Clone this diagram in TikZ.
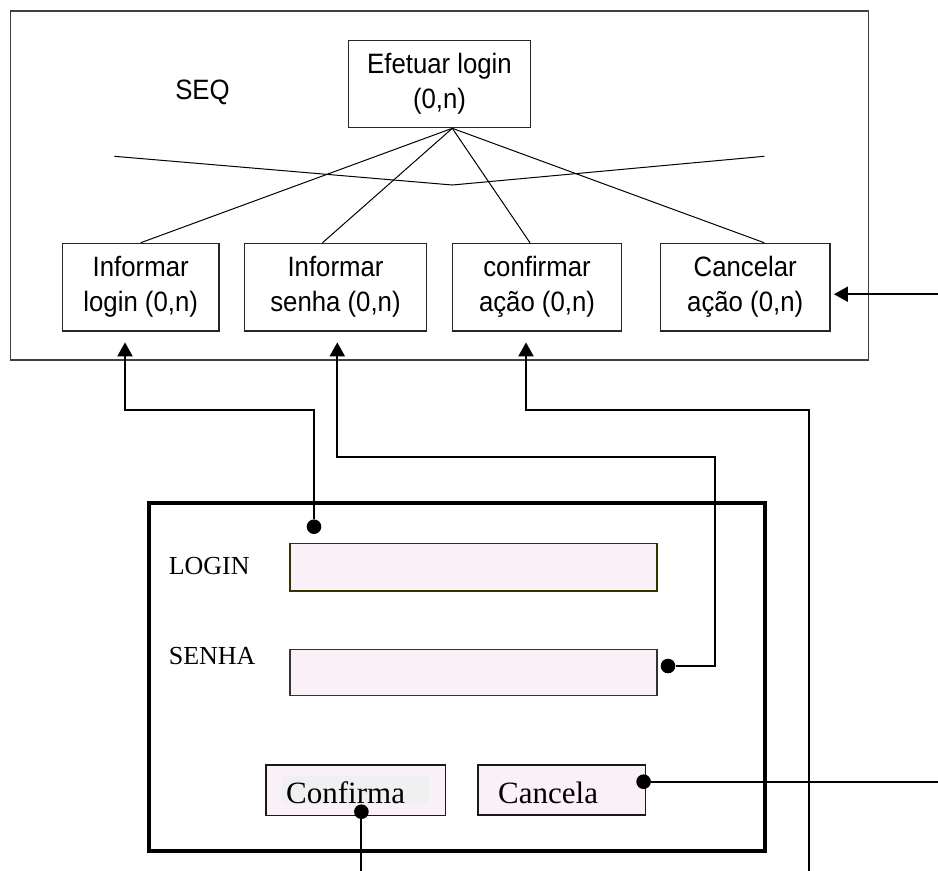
\documentclass[tikz,border=0pt]{standalone}
\usepackage{fontspec}
\setmainfont{Liberation Serif}
\newfontfamily\arialf[FakeStretch=0.92]{Liberation Sans}
\usetikzlibrary{arrows.meta,calc}
\definecolor{pinkfill}{RGB}{250,240,247}
\definecolor{olivedark}{RGB}{51,51,0}
\definecolor{framegray}{RGB}{64,64,64}
\definecolor{txtbg}{RGB}{240,240,240}
\begin{document}
\begin{tikzpicture}[x=1pt,y=-1pt,
  task/.style={draw=black!85, line width=1.2pt, inner sep=0pt, align=center,
    font=\arialf\fontsize{28}{35}\selectfont},
  hair/.style={line width=1pt},
  conn/.style={line width=2pt},
  arr/.style={conn, -{Triangle[length=14pt,width=15pt]}},
  dot/.style={circle, fill=black, inner sep=0pt, minimum size=14.6pt},
  field/.style={fill=pinkfill, line width=1.5pt, inner sep=0pt},
  btn/.style={draw=black!90, fill=pinkfill, line width=1.5pt, inner sep=0pt},
  lbl/.style={font=\fontsize{26}{30}\selectfont, inner sep=0pt, anchor=base west},
  btxt/.style={font=\fontsize{31}{36}\selectfont, inner sep=0pt, anchor=base west}
]
\useasboundingbox (0,0) rectangle (938,871);

% upper task tree
\node[draw=framegray, line width=1.2pt, minimum width=857.8pt, minimum height=349pt, inner sep=0pt] (seqframe) at (439.4,185.5) {};
\node[font=\arialf\fontsize{28}{35}\selectfont, inner sep=0pt] (seq) at (202.5,92) {SEQ};
\node[task, minimum width=182.4pt, minimum height=87pt] (efet) at (439.5,84.2) {Efetuar login\\(0,n)};
\node[task, minimum width=156.7pt, minimum height=87.7pt] (i1) at (140.7,287.2) {Informar\\login (0,n)};
\node[task, minimum width=182.4pt, minimum height=87.7pt] (i2) at (335.5,287.2) {Informar\\senha (0,n)};
\node[task, minimum width=169.4pt, minimum height=87.7pt] (i3) at (537,287.2) {confirmar\\ação (0,n)};
\node[task, minimum width=169.7pt, minimum height=87.7pt] (i4) at (745.2,287.2) {Cancelar\\ação (0,n)};

\coordinate (apex) at ($(efet.south)+(12.8,0)$);
\draw[hair] (apex) -- (i1.north);
\draw[hair] (apex) -- ($(i2.north)+(-13,0)$);
\draw[hair] (apex) -- ($(i3.north)+(-7,0)$);
\draw[hair] (apex) -- ($(i4.north)+(19.1,0)$);
\draw[hair] (114.3,156.3) -- (452.3,185) -- (764.3,156.3);

% login window
\node[draw, line width=4pt, minimum width=616.5pt, minimum height=347.4pt, inner sep=0pt] (win) at (456.75,677) {};
\node[lbl] (llogin) at (168.6,574) {LOGIN};
\node[lbl] (lsenha) at (168.6,664) {SENHA};
\node[field, draw=olivedark, minimum width=366.8pt, minimum height=47.7pt] (flogin) at (473.4,567.2) {};
\node[field, draw=black!80, minimum width=366.8pt, minimum height=46.4pt] (fsenha) at (473.4,672.5) {};
\node[btn, minimum width=179.4pt, minimum height=50.5pt] (bconf) at (355.7,790.2) {};
\node[fill=txtbg, minimum width=146.7pt, minimum height=28.3pt, inner sep=0pt] (confbg) at (355.65,789.85) {};
\node[btxt] (tconf) at (286,803.3) {Confirma};
\node[btn, minimum width=167.2pt, minimum height=50pt] (bcanc) at (561.8,790) {};
\node[btxt] (tcanc) at (498,803.3) {Cancela};

% connection points
\node[dot] (dlogin) at (314,526.7) {};
\node[dot] (dsenha) at (668,666) {};
\node[dot] (dcanc) at (643.6,781.7) {};
\node[dot] (dconf) at (361.4,811.7) {};

\coordinate (t1) at ($(i1.south)+(-15.7,10.7)$);
\coordinate (t2) at ($(i2.south)+(1.8,10.7)$);
\coordinate (t3) at ($(i3.south)+(-11,10.7)$);
\coordinate (t4) at ($(i4.east)+(3.3,7)$);
\coordinate (e4) at (938,294.2);
\coordinate (e3) at (809,871);
\coordinate (e1) at (361.4,871);
\coordinate (ecanc) at (938,781.7);
\coordinate (k1) at (125,410);
\coordinate (k2) at (714.7,457.3);
\coordinate (k3) at (526,409.8);

\draw[arr] (dlogin) |- (k1) -- (t1);
\draw[arr] (dsenha) -| (k2) -| (t2);
\draw[arr] (e3) |- (k3) -- (t3);
\draw[arr] (e4) -- (t4);
\draw[conn] (dcanc) -- (ecanc);
\draw[conn] (dconf) -- (e1);
\end{tikzpicture}
\end{document}
